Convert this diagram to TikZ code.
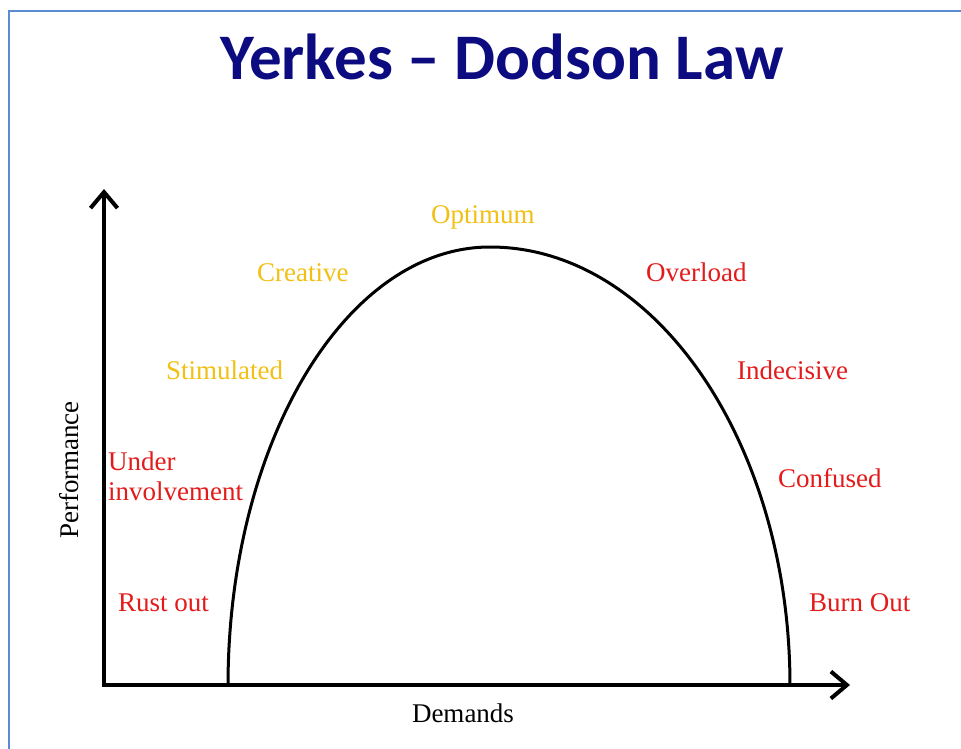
\documentclass[tikz,border=0pt]{standalone}
\usepackage{fontspec}
\setmainfont{Liberation Serif}
\newfontfamily\titlefont{Carlito}
\usetikzlibrary{arrows.meta}
\definecolor{framecol}{HTML}{5B8BD0}
\definecolor{titlecol}{HTML}{0C0C80}
\definecolor{goldcol}{HTML}{F2C014}
\definecolor{redcol}{HTML}{E31B1B}
\tikzset{
  lbl/.style={inner sep=0pt, font=\fontsize{27}{30}\selectfont},
  goldlbl/.style={lbl, text=goldcol, anchor=base west},
  redlbl/.style={lbl, text=redcol, anchor=base west},
  axis/.style={line width=4pt, line cap=rect, -{Straight Barb[length=16pt,width=27pt]}},
  curve/.style={line width=3pt},
}
\begin{document}
\begin{tikzpicture}[x=1pt,y=-1pt]
\useasboundingbox (0,0) rectangle (961,749);
\fill[white] (0,0) rectangle (961,749);
\draw[framecol, line width=2pt] (9,749) -- (9,11) -- (961,11);
\node[inner sep=0pt, anchor=base, text=titlecol, font=\titlefont\bfseries\fontsize{65}{70}\selectfont] (title) at (502,80) {Yerkes – Dodson Law};
\coordinate (O) at (104,685);
\coordinate (Ytip) at (104,189);
\coordinate (Xtip) at (850,685);
\coordinate (cl) at (228,686);
\draw[axis] (O) -- (Ytip);
\draw[axis] (O) -- (Xtip);
\draw[curve] (cl) arc[start angle=180, end angle=270, x radius=262, y radius=439]
  arc[start angle=270, end angle=360, x radius=300, y radius=439];
\node[goldlbl] (optimum) at (431,223) {Optimum};
\node[goldlbl] (creative) at (257,281) {Creative};
\node[goldlbl] (stimulated) at (166,379) {Stimulated};
\node[redlbl] (under) at (108,470) {Under};
\node[redlbl] (involvement) at (108,500) {involvement};
\node[redlbl] (rust) at (118,611) {Rust out};
\node[redlbl] (overload) at (646,281) {Overload};
\node[redlbl] (indecisive) at (737,379) {Indecisive};
\node[redlbl] (confused) at (778,487) {Confused};
\node[redlbl] (burn) at (809,611) {Burn Out};
\node[lbl, anchor=base, rotate=90] (perf) at (78,470) {Performance};
\node[lbl, anchor=base] (demands) at (463,722) {Demands};
\end{tikzpicture}
\end{document}
